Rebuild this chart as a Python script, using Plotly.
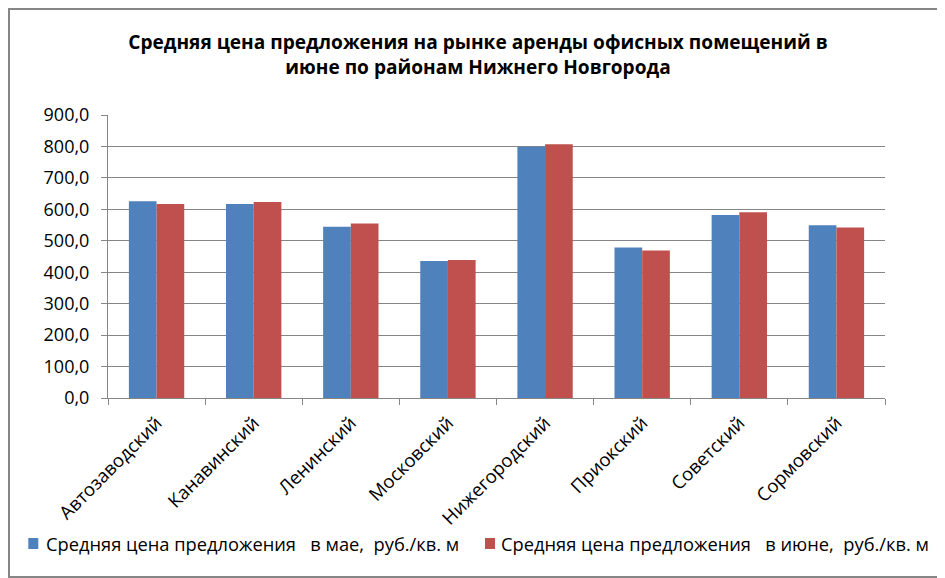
import plotly.graph_objects as go

# districts of Nizhny Novgorod
districts = ['Автозаводский', 'Канавинский', 'Ленинский', 'Московский',
             'Нижегородский', 'Приокский', 'Советский', 'Сормовский']

# average asking rent, rub per sq. m
price_may = [626, 617, 545, 436, 799, 479, 582, 549]
price_june = [617, 623, 555, 439, 807, 469, 591, 542]

name_may = 'Средняя цена предложения\u00a0\u00a0\u00a0в мае,\u00a0\u00a0руб./кв. м'
name_june = 'Средняя цена предложения\u00a0\u00a0\u00a0в июне,\u00a0\u00a0руб./кв. м'
title_text = ('Средняя цена предложения на рынке аренды офисных помещений в<br>'
              'июне по районам Нижнего Новгорода')

FONT = 'Open Sans'
BLUE, RED = '#4F81BD', '#C0504D'
GREY = '#868686'

fig = go.Figure()
fig.add_trace(go.Bar(x=districts, y=price_may, name=name_may,
                     marker=dict(color=BLUE, line=dict(width=0))))
fig.add_trace(go.Bar(x=districts, y=price_june, name=name_june,
                     marker=dict(color=RED, line=dict(width=0))))

# the page puts the figure 8px in from the window corner,
# so all pixel positions below are window position minus 8
W, H = 937, 570
L, R, T, B = 100, 60, 107, 180
pw, ph = W - L - R, H - T - B


def px(x):
    return (x - L) / pw


def py(y):
    return (H - B - y) / ph


fig.update_layout(
    width=W, height=H,
    barmode='group',
    bargap=0.43,
    bargroupgap=0,
    separators=', ',
    plot_bgcolor='white',
    paper_bgcolor='white',
    font=dict(family=FONT, color='black', size=16),
    margin=dict(l=L, r=R, t=T, b=B),
    title=dict(text=title_text, x=470 / W, xanchor='center',
               y=1 - 41 / H, yanchor='middle', yref='container',
               font=dict(family=FONT, size=19.1, color='black', weight='bold',
                         lineposition='none')),
    showlegend=False,
)

# outer frame of the chart
fig.add_shape(type='rect', xref='paper', yref='paper',
              x0=px(1), x1=px(935), y0=py(569), y1=py(1),
              line=dict(color=GREY, width=2), fillcolor='rgba(0,0,0,0)',
              layer='above')

# legend drawn by hand: small square + text
for sx, tx, color, name in [(20.3, 35.5, BLUE, name_may), (477, 491, RED, name_june)]:
    fig.add_shape(type='rect', xref='paper', yref='paper',
                  x0=px(sx), x1=px(sx + 10), y0=py(541), y1=py(530),
                  line=dict(width=0), fillcolor=color)
    fig.add_annotation(text=name, xref='paper', yref='paper',
                       x=px(tx), y=py(535), xanchor='left', yanchor='middle',
                       showarrow=False,
                       font=dict(family=FONT, size=18.3, color='black'))

fig.update_xaxes(
    showline=True, linecolor=GREY, linewidth=1,
    ticks='outside', tickson='boundaries', ticklen=6, tickcolor=GREY,
    tickangle=-45, tickfont=dict(family=FONT, size=18.5, color='black'),
    ticklabelstandoff=6,
    showgrid=False,
)
fig.update_yaxes(
    range=[0, 900], dtick=100, tickformat='.1f',
    showline=True, linecolor=GREY, linewidth=1,
    ticks='outside', ticklen=6, tickcolor=GREY,
    showgrid=True, gridcolor=GREY, gridwidth=1,
    zeroline=False,
    ticklabelstandoff=8,
    tickfont=dict(family=FONT, size=18, color='black'),
)

fig.write_html("out.html")
